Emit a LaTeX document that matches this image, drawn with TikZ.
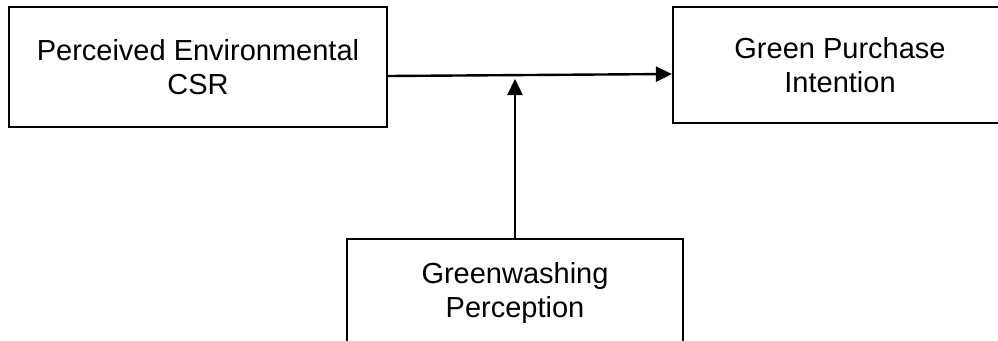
\documentclass[tikz,border=0pt]{standalone}
\usepackage{fontspec}
\setmainfont{Liberation Sans}
\usetikzlibrary{arrows.meta}
\begin{document}
\begin{tikzpicture}[x=1pt,y=-1pt]

    \tikzset{
      varbox/.style={
        draw,
        line width=2.2pt,
        align=center,
        inner sep=0pt,
        font=\fontsize{29}{34}\selectfont,
      },
      link/.style={
        line width=2.4pt,
        -{Triangle[length=16pt,width=15pt]},
      },
    }
    \useasboundingbox (0,0) rectangle (998,340);
    \clip (0,0) rectangle (998,340);

	\node[varbox, minimum width=378pt, minimum height=120pt] (csr) at (198,67) {Perceived Environmental\\CSR};
	\node[varbox, minimum width=334pt, minimum height=116pt] (gpi) at (840,65) {Green Purchase\\Intention};
	\node[varbox, minimum width=336pt, minimum height=108pt] (gwp) at (515,293) {Greenwashing\\Perception};
	\coordinate (mod) at (515,79);

	\draw[link] ([yshift=-9pt]csr.east) -- ([yshift=-9pt]gpi.west);
	\draw[link] (gwp.north) -- (mod);

\end{tikzpicture}
\end{document}
